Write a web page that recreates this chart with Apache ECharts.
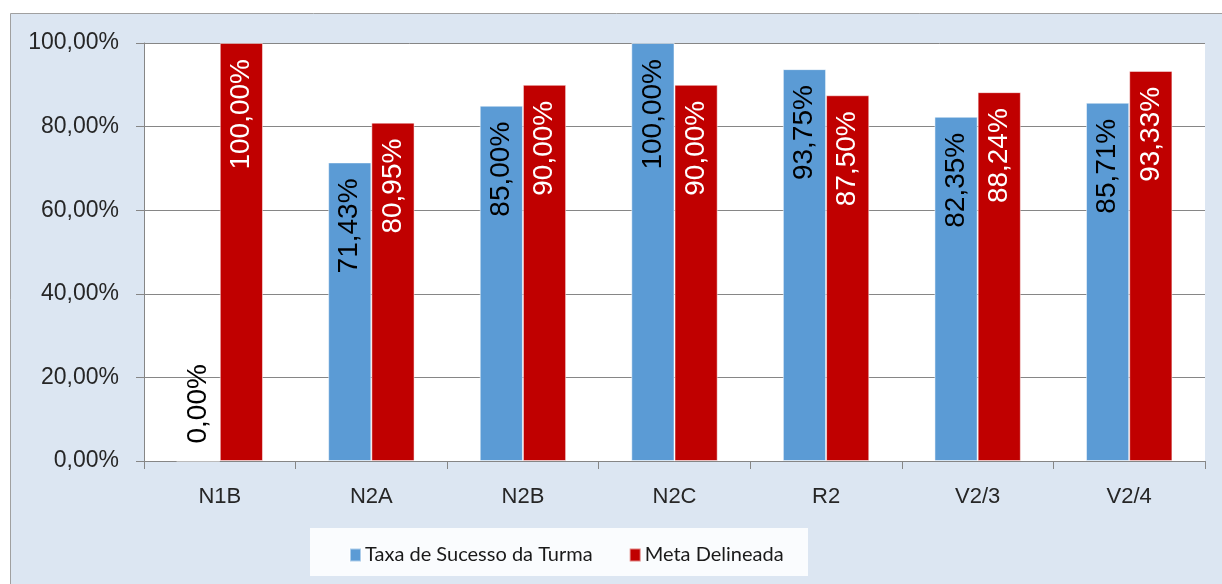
<!DOCTYPE html>
<html><head><meta charset="utf-8">
<script src="https://cdn.jsdelivr.net/npm/echarts@6/dist/echarts.min.js"></script>
<style>html,body{margin:0;padding:0;background:#fff}#c{width:1222px;height:584px}</style>
</head><body><div id="c"></div>
<script>
const categories = ['N1B','N2A','N2B','N2C','R2','V2/3','V2/4'];
const taxaSucesso = [0, 71.43, 85.00, 100.00, 93.75, 82.35, 85.71];
const metaDelineada = [100.00, 80.95, 90.00, 90.00, 87.50, 88.24, 93.33];
const seriesNames = ['Taxa de Sucesso da Turma', 'Meta Delineada'];
const yTicks = [0, 20, 40, 60, 80, 100];

const fmt = v => v.toFixed(2).replace('.', ',') + '%';
const labelBase = {
  show: true, position: 'insideTop', rotate: 90, align: 'right', verticalAlign: 'middle',
  distance: 16, fontFamily: 'Liberation Sans, Arial, sans-serif', fontSize: 28,
  formatter: p => fmt(p.value)
};
function toData(arr) {
  return arr.map(v => v === 0
    ? { value: v, label: { position: 'insideBottom', align: 'left', distance: 18 } }
    : v);
}
const chart = echarts.init(document.getElementById('c'), null, { renderer: 'canvas' });
chart.setOption({
  animation: false,
  backgroundColor: '#ffffff',
  graphic: [
    { type: 'rect', z: -10, shape: { x: 10.5, y: 13.5, width: 1240, height: 600 },
      style: { fill: '#dce6f2', stroke: '#a0a0a0', lineWidth: 1 } },
    { type: 'rect', z: -5, shape: { x: 310, y: 528, width: 498, height: 48 },
      style: { fill: '#fafcfe', stroke: null } }
  ],
  grid: { left: 144, right: 17, top: 43, bottom: 123, show: true, backgroundColor: '#ffffff', borderWidth: 0 },
  legend: {
    data: seriesNames, left: 344, top: 540, itemWidth: 11, itemHeight: 13, itemGap: 36,
    icon: 'rect',
    textStyle: { fontFamily: 'Lato, Liberation Sans, sans-serif', fontSize: 20, color: '#1a1a1a', padding: [0,0,0,-1] }
  },
  xAxis: {
    type: 'category', data: categories,
    axisLine: { lineStyle: { color: '#868686', width: 1 } },
    axisTick: { show: true, length: 8, lineStyle: { color: '#868686' } },
    axisLabel: { fontFamily: 'Liberation Sans, Arial, sans-serif', fontSize: 22, color: '#262626', margin: 25 }
  },
  yAxis: {
    type: 'value', min: 0, max: 100, interval: 20,
    axisLine: { show: true, lineStyle: { color: '#868686' } },
    axisTick: { show: true, length: 8, lineStyle: { color: '#868686' } },
    splitLine: { lineStyle: { color: '#868686', width: 1 } },
    axisLabel: { fontFamily: 'Liberation Sans, Arial, sans-serif', fontSize: 23, color: '#262626', margin: 25,
      formatter: v => yTicks.includes(v) ? fmt(v) : '' }
  },
  series: [
    { name: seriesNames[0], type: 'bar', data: toData(taxaSucesso), barGap: '0%', barCategoryGap: '43%',
      itemStyle: { color: '#5b9bd5', borderColor: 'rgba(255,255,255,0.5)', borderWidth: 1 },
      label: Object.assign({}, labelBase, { color: '#000000' }) },
    { name: seriesNames[1], type: 'bar', data: toData(metaDelineada), barGap: '0%', barCategoryGap: '43%',
      itemStyle: { color: '#c00000', borderColor: 'rgba(255,255,255,0.5)', borderWidth: 1 },
      label: Object.assign({}, labelBase, { color: '#ffffff' }) }
  ]
});
</script></body></html>
